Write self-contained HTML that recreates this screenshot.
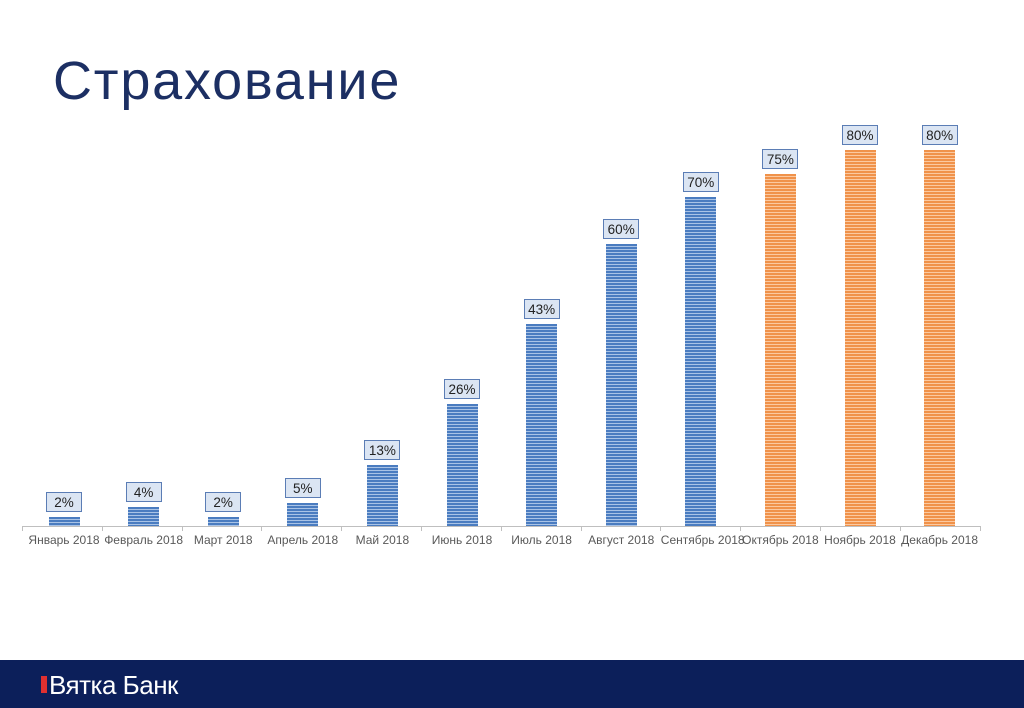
<!DOCTYPE html><html><head><meta charset="utf-8"><style>
body{margin:0;width:1024px;height:708px;background:#fff;position:relative;overflow:hidden;font-family:"Liberation Sans",sans-serif}
.t{position:absolute;left:53px;top:50px;font-size:54px;color:#1c2f63;letter-spacing:1.8px}
.ax{position:absolute;left:22px;top:526px;width:958px;height:1px;background:#bfbfbf}
.tk{position:absolute;top:526px;width:1px;height:5px;background:#bfbfbf}
.b{position:absolute;width:31px;bottom:182px}
.bl{background:repeating-linear-gradient(#4a7cc0 0 2px,#a9c3e6 2px 3px)}
.or{background:repeating-linear-gradient(#f0924a 0 2px,#fbc9a0 2px 3px)}
.l{position:absolute;width:36px;height:20px;border:1px solid #5b7db5;background:#dbe5f3;font-size:13.5px;text-align:center;line-height:19px;color:#222;box-sizing:border-box}
.c{position:absolute;top:533px;width:80px;text-align:center;font-size:12px;color:#595959;white-space:nowrap}
.f{position:absolute;left:0;top:660px;width:1024px;height:48px;background:#0c1f5a}
.logo{position:absolute;left:49px;top:670px;color:#fff;font-size:26px;letter-spacing:-0.5px}
.lm{position:absolute;left:41px;top:676px;width:6px;height:17px;background:#e03030}
</style></head><body>
<div class="t">Страхование</div>
<div class="ax"></div>
<div id="g"></div>
<div class="f"></div><div class="lm"></div><div class="logo">Вятка Банк</div>
<script>
(function(){
var v=[2,4,2,5,13,26,43,60,70,75,80,80],n=["Январь 2018","Февраль 2018","Март 2018","Апрель 2018","Май 2018","Июнь 2018","Июль 2018","Август 2018","Сентябрь 2018","Октябрь 2018","Ноябрь 2018","Декабрь 2018"],h="";
for(var i=0;i<12;i++){var cx=64+i*79.6,bh=v[i]*4.7,ty=526-bh;
h+='<div class="b '+(i<9?'bl':'or')+'" style="left:'+(cx-15.5)+'px;height:'+bh+'px"></div>';
h+='<div class="l" style="left:'+(cx-18)+'px;top:'+(ty-25)+'px">'+v[i]+'%</div>';
h+='<div class="c" style="left:'+(cx-40)+'px">'+n[i]+'</div>';
h+='<div class="tk" style="left:'+(22+i*79.8)+'px"></div>';}
h+='<div class="tk" style="left:980px"></div>';
document.getElementById('g').innerHTML=h;
})();
</script></body></html>
